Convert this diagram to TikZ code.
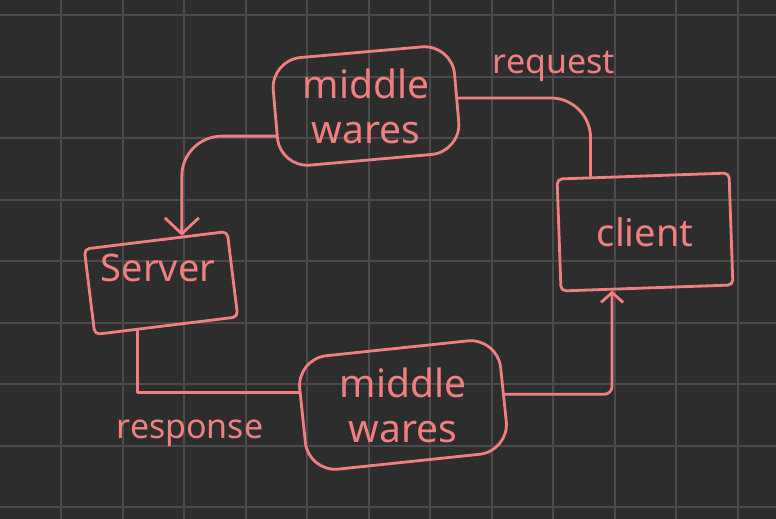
\documentclass[tikz,border=0pt]{standalone}
\usepackage{fontspec}
\setmainfont{Noto Sans}
\usepackage{tikz}
\usetikzlibrary{positioning}
\usetikzlibrary{calc}
\usetikzlibrary{arrows.meta}
\definecolor{board}{HTML}{2D2D2D}
\definecolor{gridgray}{HTML}{4B4B4B}
\definecolor{chalk}{HTML}{F08080}

\begin{document}
\begin{tikzpicture}[x=1pt, y=-1pt,
  wire/.style={draw=chalk, line width=2.8pt, line cap=round, line join=round},
  mware/.style={wire, rounded corners=30pt, inner sep=0pt},
  pbox/.style={wire, rounded corners=5pt, inner sep=0pt},
  mtext/.style={text=chalk, align=center, inner sep=0pt, font=\fontsize{39}{45}\selectfont},
  ptext/.style={text=chalk, inner sep=0pt, font=\fontsize{38}{42}\selectfont},
  tag/.style={text=chalk, font=\fontsize{34}{38}\selectfont}]
\useasboundingbox (0,0) rectangle (776,519);
\fill[board] (0,0) rectangle (776,519);
\foreach \i in {0,...,11}
  \draw[gridgray, line width=2pt] ({61+61.5*\i},0) -- ({61+61.5*\i},519);
\foreach \j in {0,...,8}
  \draw[gridgray, line width=2pt] (0,{15+61.5*\j}) -- (776,{15+61.5*\j});

% boxes
\node[mware, rotate=5, minimum width=182pt, minimum height=108pt] (tmw) at (366,106) {};
\node[mware, rotate=6, minimum width=202pt, minimum height=114pt] (bmw) at (403,405) {};
\node[pbox, rotate=7, minimum width=144pt, minimum height=86pt] (srv) at (161,283) {};
\node[pbox, rotate=2, minimum width=172pt, minimum height=112pt] (cli) at (645,232) {};

\node[mtext] (tmwtext) at (tmw) {middle\\wares};
\node[mtext] (bmwtext) at (bmw) {middle\\wares};
\node[ptext] (srvtext) at (158,268) {Server};
\node[ptext] (clitext) at (cli) {client};

\node[tag] (req) at (554,66) {request};
\node[tag] (resp) at (190,433) {response};

% connectors
\coordinate (clitop) at ($(cli.north west)!0.2!(cli.north east)$);
\coordinate (clibot) at ($(cli.south west)!0.3!(cli.south east)$);
\coordinate (srvtop) at ($(srv.north west)!0.68!(srv.north east)$);
\coordinate (srvbot) at ($(srv.south west)!0.3!(srv.south east)$);
\coordinate (tmwout) at ($(tmw.north west)!0.7!(tmw.south west)$);
\coordinate (bmwin) at ($(bmw.north west)!0.3!(bmw.south west)$);

\draw[wire, rounded corners=40pt] (tmw.east) -| (clitop);
\draw[wire, rounded corners=40pt, -{Straight Barb[length=16pt,width=34pt]}] (tmwout) -| (srvtop);
\draw[wire] (srvbot) |- (bmwin);
\draw[wire, rounded corners=8pt, -{Straight Barb[length=10pt,width=22pt]}] (bmw.east) -| (clibot);
\end{tikzpicture}
\end{document}
